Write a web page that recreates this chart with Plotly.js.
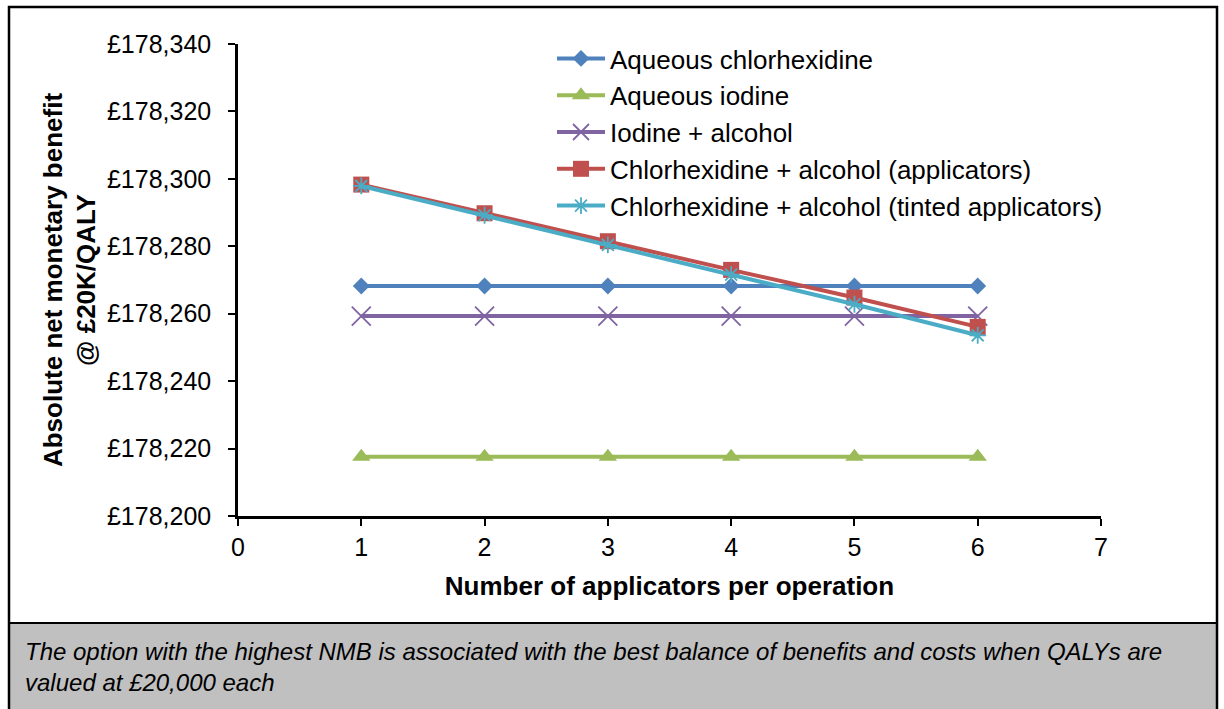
<!DOCTYPE html>
<html>
<head>
<meta charset="utf-8">
<script src="https://cdn.plot.ly/plotly-3.0.1.min.js"></script>
<style>
  html, body { margin: 0; padding: 0; background: #ffffff; }
  #chart { width: 1224px; height: 709px; }
</style>
</head>
<body>
<div id="chart"></div>
<script>
// ---- Data ----
const applicators = [1, 2, 3, 4, 5, 6];
const seriesNames = [
  "Aqueous chlorhexidine",
  "Aqueous iodine",
  "Iodine + alcohol",
  "Chlorhexidine + alcohol (applicators)",
  "Chlorhexidine + alcohol (tinted applicators)"
];
const aqueousChlorhexidine = [178268.2, 178268.2, 178268.2, 178268.2, 178268.2, 178268.2];
const aqueousIodine        = [178217.6, 178217.6, 178217.6, 178217.6, 178217.6, 178217.6];
const iodineAlcohol        = [178259.3, 178259.3, 178259.3, 178259.3, 178259.3, 178259.3];
const chxAlcoholApplicators = [178298.3, 178289.8, 178281.5, 178273.0, 178264.8, 178256.1];
const chxAlcoholTinted      = [178297.9, 178289.2, 178280.4, 178271.6, 178262.8, 178253.6];

const xTickVals = [0, 1, 2, 3, 4, 5, 6, 7];
const yTickVals = [178200, 178220, 178240, 178260, 178280, 178300, 178320, 178340];
const yTickText = ["£178,200", "£178,220", "£178,240", "£178,260", "£178,280", "£178,300", "£178,320", "£178,340"];

const xTitle = "Number of applicators per operation";
const yTitle = "Absolute net monetary benefit<br>@ £20K/QALY";
const caption = "The option with the highest NMB is associated with the best balance of benefits and costs when QALYs are<br>valued at £20,000 each";

// ---- Layout geometry (pixels) ----
const W = 1224, H = 709;
const L = 238, R = 1101, T = 44, B = 516;
const px = x => (x - L) / (R - L);
const py = y => (B - y) / (B - T);

const FONT = "Liberation Sans, Arial, Helvetica, sans-serif";

const colors = ["#4F81BD", "#9BBB59", "#8064A2", "#C0504D", "#4BACC6"];
const values = [aqueousChlorhexidine, aqueousIodine, iodineAlcohol, chxAlcoholApplicators, chxAlcoholTinted];
const markerStyles = [
  {symbol: "diamond", size: 13, lw: 0},
  {symbol: "triangle-up", size: 16, lw: 0},
  {symbol: "x-thin-open", size: 19, lw: 1.8},
  {symbol: "square", size: 16, lw: 0},
  {symbol: "asterisk-open", size: 14, lw: 1.8}
];

const traces = seriesNames.map((name, i) => ({
  type: "scatter",
  mode: "lines+markers",
  name: name,
  x: applicators,
  y: values[i],
  line: {color: colors[i], width: 4},
  marker: {
    color: colors[i],
    symbol: markerStyles[i].symbol,
    size: markerStyles[i].size,
    line: {color: colors[i], width: markerStyles[i].lw}
  },
  hovertemplate: "%{x}: £%{y:,.1f}<extra>" + name + "</extra>"
}));

const layout = {
  width: W,
  height: H,
  margin: {l: L, r: W - R, t: T, b: H - B, pad: 0},
  paper_bgcolor: "#ffffff",
  plot_bgcolor: "#ffffff",
  font: {family: FONT, color: "#000000", size: 25},
  showlegend: true,
  legend: {
    x: px(552), y: py(35), xanchor: "left", yanchor: "top",
    bgcolor: "rgba(0,0,0,0)",
    font: {family: FONT, size: 26, color: "#000000"},
    itemwidth: 48,
    tracegroupgap: 0
  },
  xaxis: {
    range: [0, 7],
    tickvals: xTickVals,
    showgrid: false,
    zeroline: false,
    showline: true,
    linecolor: "#000000",
    linewidth: 2.5,
    ticks: "outside",
    ticklen: 7,
    tickwidth: 2,
    tickcolor: "#000000",
    tickfont: {family: FONT, size: 25, color: "#000000"},
    title: {text: "<b>" + xTitle + "</b>", font: {family: FONT, size: 26, color: "#000000"}, standoff: 18},
    automargin: false,
    fixedrange: true
  },
  yaxis: {
    range: [178200, 178340],
    tickvals: yTickVals,
    ticktext: yTickText,
    showgrid: false,
    zeroline: false,
    showline: true,
    linecolor: "#000000",
    linewidth: 2.5,
    ticks: "outside",
    ticklen: 7,
    tickwidth: 2,
    tickcolor: "#000000",
    ticklabelstandoff: 12,
    tickfont: {family: FONT, size: 25, color: "#000000"},
    title: {text: "<b>" + yTitle + "</b>", font: {family: FONT, size: 26, color: "#000000"}, standoff: 4},
    automargin: false,
    fixedrange: true
  },
  shapes: [
    {type: "rect", xref: "paper", yref: "paper", layer: "below",
     x0: px(9), x1: px(1217), y0: py(623), y1: py(715),
     fillcolor: "#C0C0C0", line: {color: "#000000", width: 2}},
    {type: "rect", xref: "paper", yref: "paper", layer: "above",
     x0: px(9), x1: px(1217), y0: py(715), y1: py(7),
     fillcolor: "rgba(0,0,0,0)", line: {color: "#000000", width: 2.5}}
  ],
  annotations: [
    {xref: "paper", yref: "paper", x: px(23), y: py(636), xanchor: "left", yanchor: "top",
     align: "left", showarrow: false,
     text: "<i>" + caption + "</i>",
     font: {family: FONT, size: 24, color: "#000000"}}
  ]
};

Plotly.newPlot("chart", traces, layout, {displayModeBar: false, responsive: false});
</script>
</body>
</html>
